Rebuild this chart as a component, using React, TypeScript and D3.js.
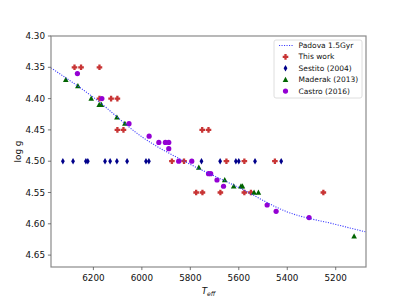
import * as d3 from 'd3';
import { useEffect } from 'react';

// values
const thisWorkTeff = [6278, 6251, 6175, 6175, 6127, 6101, 6101, 6076, 5751, 5725, 5876, 5826, 5651, 5577, 5451, 5776, 5750, 5676, 5577, 5550, 5251];
const thisWorkLogg = [4.35, 4.35, 4.35, 4.40, 4.40, 4.40, 4.45, 4.45, 4.45, 4.45, 4.50, 4.50, 4.50, 4.50, 4.50, 4.55, 4.55, 4.55, 4.55, 4.55, 4.55];

const sestitoTeff = [6326, 6284, 6231, 6223, 6152, 6131, 6103, 6061, 5983, 5971, 5754, 5677, 5612, 5600, 5533, 5425];
const sestitoLogg = sestitoTeff.map(() => 4.50);

const maderakTeff = [6314, 6264, 6209, 6176, 6167, 6103, 6070, 5765, 5658, 5621, 5591, 5585, 5537, 5519, 5124];
const maderakLogg = [4.37, 4.38, 4.40, 4.41, 4.41, 4.43, 4.44, 4.51, 4.53, 4.54, 4.54, 4.54, 4.55, 4.55, 4.62];

const castroTeff = [6266, 6165, 6053, 5970, 5930, 5903, 5889, 5889, 5848, 5794, 5725, 5716, 5690, 5663, 5483, 5446, 5310];
const castroLogg = [4.36, 4.40, 4.44, 4.46, 4.47, 4.47, 4.47, 4.48, 4.50, 4.50, 4.52, 4.52, 4.53, 4.54, 4.57, 4.58, 4.59];

const padovaTeff = [6375, 6200, 6000, 5800, 5600, 5400, 5200, 5075];
const padovaLogg = [4.351, 4.398, 4.461, 4.505, 4.542, 4.581, 4.601, 4.613];

const xTicks = [6200, 6000, 5800, 5600, 5400, 5200];
const yTicks = [4.30, 4.35, 4.40, 4.45, 4.50, 4.55, 4.60, 4.65];

const legendLabels = ['Padova 1.5Gyr', 'This work', 'Sestito (2004)', 'Maderak (2013)', 'Castro (2016)'];

const W = 407, H = 300;
const margin = { top: 36, right: 41, bottom: 33, left: 51 };
const font = 'DejaVu Sans, sans-serif';

const RED = '#c83434', NAVY = '#00008b', GREEN = '#006400', PURPLE = '#9400d3', LINE = '#3a3aff';

// thick filled plus, like matplotlib's "P"
const plusPath = (a: number, b: number) =>
  `M${-b},${-a}H${b}V${-b}H${a}V${b}H${b}V${a}H${-b}V${b}H${-a}V${-b}H${-b}Z`;

const Marker = ({ kind, x, y }: { kind: string; x: number; y: number }) => {
  if (kind === 'plus') return <path d={plusPath(2.8, 1.15)} transform={`translate(${x},${y})`} fill={RED} />;
  if (kind === 'diamond') return <path d="M0,-3.2L1.9,0L0,3.2L-1.9,0Z" transform={`translate(${x},${y})`} fill={NAVY} />;
  if (kind === 'tri') return <path d="M0,-3L2.8,2.2L-2.8,2.2Z" transform={`translate(${x},${y})`} fill={GREEN} />;
  return <circle cx={x} cy={y} r={2.6} fill={PURPLE} />;
};

const App = () => {
  useEffect(() => {
    document.body.style.margin = '0';
  }, []);

  const iw = W - margin.left - margin.right;
  const ih = H - margin.top - margin.bottom;

  const x = d3.scaleLinear().domain([6375, 5075]).range([0, iw]);
  const y = d3.scaleLinear().domain([4.30, 4.669]).range([0, ih]);

  const line = d3.line<number>()
    .x((_, i) => x(padovaTeff[i]))
    .y(d => y(d))
    .curve(d3.curveMonotoneX);

  const series = [
    { kind: 'plus', t: thisWorkTeff, g: thisWorkLogg },
    { kind: 'diamond', t: sestitoTeff, g: sestitoLogg },
    { kind: 'tri', t: maderakTeff, g: maderakLogg },
    { kind: 'circle', t: castroTeff, g: castroLogg },
  ];

  const lx = 274, ly = 40, lw = 88, lh = 58;

  return (
    <svg width={W} height={H} style={{ position: 'absolute', left: 0, top: 0 }} fontFamily={font}>
      <rect width={W} height={H} fill="white" />
      <defs>
        <clipPath id="plot">
          <rect width={iw} height={ih} />
        </clipPath>
      </defs>
      <g transform={`translate(${margin.left},${margin.top})`}>
        <g clipPath="url(#plot)">
          {series.map(s => s.t.map((t, i) => (
            <Marker key={s.kind + i} kind={s.kind} x={x(t)} y={y(s.g[i])} />
          )))}
          <path d={line(padovaLogg) || ''} fill="none" stroke={LINE} strokeWidth={1.1} strokeDasharray="1.1,1.4" />
        </g>

        <rect width={iw} height={ih} fill="none" stroke="#8a8a8a" strokeWidth={1.2} />

        {xTicks.map(t => (
          <g key={t} transform={`translate(${x(t)},${ih})`}>
            <line y2={3.1} stroke="#555" strokeWidth={0.8} />
            <text y={14} textAnchor="middle" fontSize={8.8} fill="#111">{t}</text>
          </g>
        ))}
        {yTicks.map(t => (
          <g key={t} transform={`translate(0,${y(t)})`}>
            <line x2={-3.1} stroke="#555" strokeWidth={0.8} />
            <text x={-6} dy="0.34em" textAnchor="end" fontSize={8.8} fill="#111">{t.toFixed(2)}</text>
          </g>
        ))}

        <text x={iw / 2} y={ih + 27} textAnchor="middle" fontSize={8.8} fill="#111">
          <tspan fontStyle="italic">T</tspan>
          <tspan fontSize={6.2} fontStyle="italic" dy={2.2}>eff</tspan>
        </text>
        <text transform={`translate(-30,${ih / 2}) rotate(-90)`} textAnchor="middle" fontSize={8.8} fill="#111">log g</text>
      </g>

      <g transform={`translate(${lx},${ly})`}>
        <rect width={lw} height={lh} rx={2} fill="white" fillOpacity={0.8} stroke="#d5d5d5" strokeWidth={0.8} />
        {legendLabels.map((lab, i) => {
          const cy = 5.5 + i * 11.4;
          return (
            <g key={lab}>
              {i === 0
                ? <line x1={5} x2={19} y1={cy} y2={cy} stroke={LINE} strokeWidth={1.1} strokeDasharray="1.1,1.4" />
                : <Marker kind={series[i - 1].kind} x={11.5} y={cy} />}
              <text x={24.5} y={cy} dy="0.34em" fontSize={7.5} fill="#111">{lab}</text>
            </g>
          );
        })}
      </g>
    </svg>
  );
};

export default App;
